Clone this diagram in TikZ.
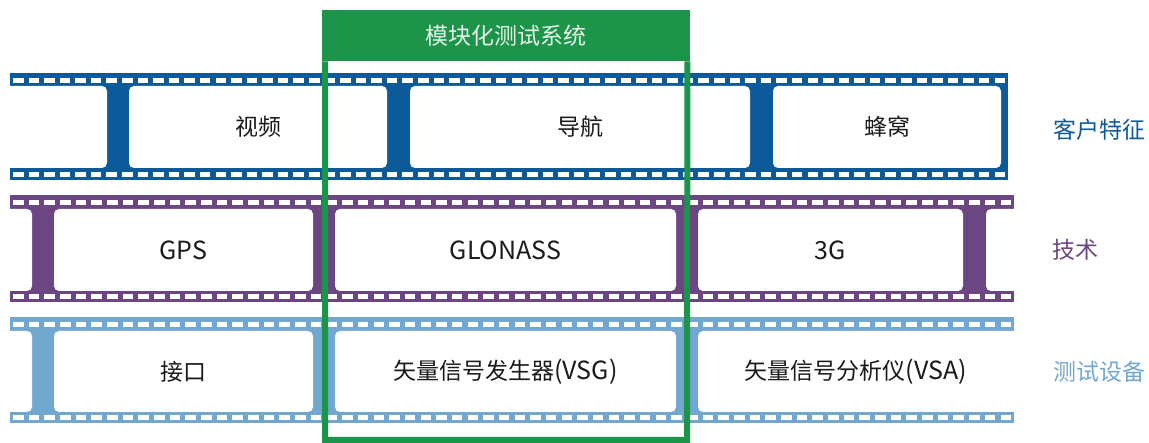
\documentclass[tikz,border=0pt]{standalone}
\usepackage{fontspec}
\setmainfont{Noto Sans CJK SC}
\definecolor{cdblue}{HTML}{0D5A9B}
\definecolor{cpurple}{HTML}{6B4682}
\definecolor{clblue}{HTML}{72A8D0}
\definecolor{cgreen}{HTML}{1C9449}
\definecolor{ctext}{HTML}{1A1A1A}
\definecolor{chead}{HTML}{E6F2E8}
\newcommand\lt[1]{{\fontsize{25}{28}\selectfont #1}}
% color, x0, x1, top, bot
\newcommand\drawstrip[5]{%
  \fill[#1] (#2,#4) rectangle (#3,#5);
  \pgfmathsetmacro\pitch{(#3-#2-6-10.5)/63}
  \foreach \k in {0,...,63}{
    \pgfmathsetmacro\hx{#2+3+\k*\pitch}
    \fill[white] (\hx,#4+5) rectangle (\hx+10.5,#4+10);
    \fill[white] (\hx,#5-7.5) rectangle (\hx+10.5,#5-2.5);
  }%
}
\begin{document}
\begin{tikzpicture}[x=1pt,y=-1pt,
  framebox/.style={fill=white, rounded corners=5pt, inner sep=0pt, font=\fontsize{23}{28}\selectfont, text=ctext},
  rowlabel/.style={font=\fontsize{23}{28}\selectfont, inner sep=0pt},
  greenline/.style={draw=cgreen, line width=6pt, line join=miter}
]
\useasboundingbox (0,0) rectangle (1149,443);

% strip 1: customer features
\drawstrip{cdblue}{10}{1008}{73}{180}
\begin{scope}
  \clip (10,73) rectangle (1008,180);
  \node[framebox, minimum width=127pt, minimum height=82pt] (f11) at (43.5,127) {};
  \node[framebox, minimum width=258pt, minimum height=82pt] (f12) at (258,127) {\raisebox{-2pt}{视频}};
  \node[framebox, minimum width=340pt, minimum height=82pt] (f13) at (580,127) {\raisebox{-2pt}{导航}};
  \node[framebox, minimum width=228pt, minimum height=82pt] (f14) at (887,127) {\raisebox{-2pt}{蜂窝}};
\end{scope}

% strip 2: technology
\drawstrip{cpurple}{10}{1014}{195}{302}
\begin{scope}
  \clip (10,195) rectangle (1014,302);
  \node[framebox, minimum width=52pt, minimum height=82pt] (f21) at (6,250) {};
  \node[framebox, minimum width=259pt, minimum height=82pt] (f22) at (183.5,250) {\lt{GPS}};
  \node[framebox, minimum width=341pt, minimum height=82pt] (f23) at (505.5,250) {\lt{GLONASS}};
  \node[framebox, minimum width=265pt, minimum height=82pt] (f24) at (830.5,250) {\lt{3G}};
  \node[framebox, minimum width=54pt, minimum height=82pt] (f25) at (1013,250) {};
\end{scope}

% strip 3: test equipment
\drawstrip{clblue}{10}{1014}{317}{423}
\begin{scope}
  \clip (10,317) rectangle (1014,423);
  \node[framebox, minimum width=52pt, minimum height=81pt] (f31) at (6,371.5) {};
  \node[framebox, minimum width=259pt, minimum height=81pt] (f32) at (183.5,371.5) {接口};
  \node[framebox, minimum width=341pt, minimum height=81pt] (f33) at (505.5,371.5) {矢量信号发生器\lt{(VSG)}};
  \node[framebox, minimum width=332pt, minimum height=81pt] (f34) at (864,371.5) {};
\end{scope}
\node[framebox, fill=none] (t34) at (856,371.5) {矢量信号分析仪\lt{(VSA)}};

% row labels
\node[rowlabel, text=cdblue] (l1) at (1099,130) {客户特征};
\node[rowlabel, text=cpurple] (l2) at (1075,250) {技术};
\node[rowlabel, text=clblue] (l3) at (1099,372) {测试设备};

% modular test system box
\node[fill=cgreen, text=chead, minimum width=368pt, minimum height=51pt, inner sep=0pt,
      anchor=north west, font=\fontsize{23}{28}\selectfont] (hdr) at (322,10) {模块化测试系统};
\coordinate (gbl) at (325,440);
\coordinate (gbr) at (687,440);
\draw[greenline] ([xshift=3pt]hdr.south west) -- (gbl) -- (gbr) -- ([xshift=-3pt]hdr.south east);
\end{tikzpicture}
\end{document}
